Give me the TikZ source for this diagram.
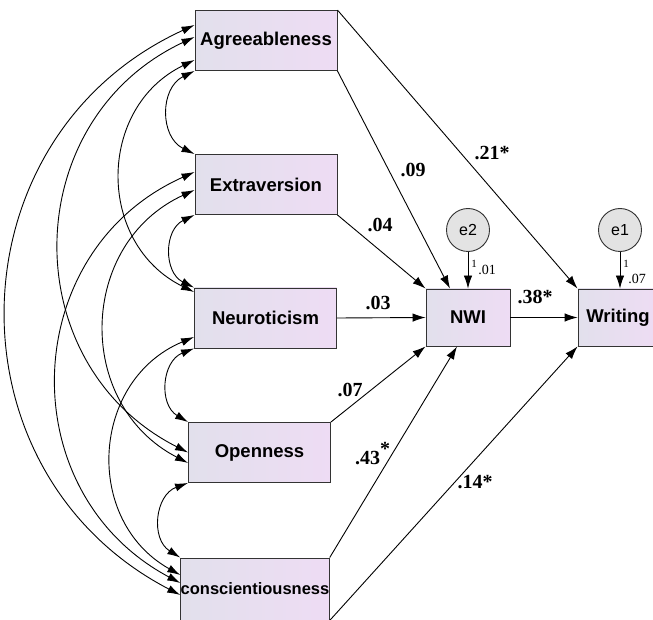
\documentclass[tikz,border=0pt]{standalone}
\usepackage{fontspec}
\setmainfont{Liberation Serif}
\setsansfont{Liberation Sans}
\usetikzlibrary{arrows.meta,calc}
\definecolor{boxl}{RGB}{226,224,236}
\definecolor{boxr}{RGB}{238,220,244}

\begin{document}
\begin{tikzpicture}[x=1pt,y=1pt,
        var/.style={draw=black!80,line width=0.9pt,minimum width=142pt,minimum height=60pt,inner sep=0pt,
            left color=boxl,right color=boxr,font=\sffamily\bfseries\fontsize{18.5}{20}\selectfont},
        err/.style={circle,draw=black!80,line width=0.9pt,fill=black!11,minimum size=43pt,inner sep=0pt,
            font=\sffamily\fontsize{16}{17}\selectfont},
        reg/.style={line width=0.9pt,-{Latex[length=13pt,width=8.5pt]}},
        cov/.style={line width=0.9pt,{Latex[length=13pt,width=8pt]}-{Latex[length=13pt,width=8pt]},
            bend right=64,looseness=1.2},
        coef/.style={font=\bfseries\fontsize{20}{22}\selectfont,inner sep=0pt},
        resid/.style={font=\fontsize{14}{15}\selectfont,inner sep=0pt}]
        \useasboundingbox[fill=white] (0,0) rectangle (653,-620);

        \node (agr) [var] at (266,-40.5) {Agreeableness};
        \node (ext) [var] at (266,-184.5) {Extraversion};
        \node (neu) [var] at (265.5,-318) {Neuroticism};
        \node (ope) [var] at (259.5,-452.5) {Openness};
        \node (con) [var,minimum height=62pt,font=\sffamily\bfseries\fontsize{16.5}{18}\selectfont] at (255,-589) {conscientiousness};
        \node (nwi) [var,minimum width=84pt,minimum height=57pt] at (468,-317.5) {NWI};
        \node (wri) [var,minimum width=80pt,minimum height=57pt] at (618,-317.5) {Writing};
        \node (e2) [err] at (468,-230) {e2};
        \node (e1) [err] at (620,-230) {e1};

        % paths
        \draw[reg] (agr.north east) -- (wri.north west);
        \draw[reg] (agr.south east) -- ([xshift=-18pt]nwi.north);
        \draw[reg] (ext.south east) -- (nwi.north west);
        \draw[reg] (neu.east) -- (nwi.west);
        \draw[reg] (ope.north east) -- (nwi.south west);
        \draw[reg] (con.north east) -- ([xshift=-11pt]nwi.south);
        \draw[reg] (con.south east) -- (wri.south west);
        \draw[reg] (nwi.east) -- (wri.west);
        \draw[reg] (e2.south) -- (nwi.north);
        \draw[reg] (e1.south) -- ([xshift=2pt]wri.north);

        % covariances
        \draw[cov] ([yshift=15.5pt]agr.west) to ([yshift=-6pt]con.west);
        \draw[cov] ([yshift=3.5pt]agr.west) to (ope.west);
        \draw[cov] ([yshift=-19.5pt]agr.west) to ([yshift=26pt]neu.west);
        \draw[cov] (agr.south west) to (ext.north west);
        \draw[cov] ([yshift=12.5pt]ext.west) to ([yshift=6pt]con.west);
        \draw[cov] ([yshift=-5.5pt]ext.west) to ([yshift=-10.5pt]ope.west);
        \draw[cov] (ext.south west) to (neu.north west);
        \draw[cov] ([yshift=-19pt]neu.west) to ([yshift=14pt]con.west);
        \draw[cov] (neu.south west) to (ope.north west);
        \draw[cov] (ope.south west) to (con.north west);

        \node (l21) [coef] at (492,-153) {.21*};
        \node (l09) [coef] at (413,-170) {.09};
        \node (l04) [coef] at (380,-225) {.04};
        \node (l03) [coef] at (378,-303) {.03};
        \node (l07) [coef] at (350,-390) {.07};
        \node (l43) [coef,anchor=base west] at (355,-464) {.43\raisebox{9pt}{*}};
        \node (l14) [coef] at (475,-482) {.14*};
        \node (l38) [coef] at (535,-297) {.38*};

        \node (one2) [resid,font=\fontsize{11}{12}\selectfont] at (474,-264) {1};
        \node (v2) [resid] at (487,-270) {.01};
        \node (one1) [resid,font=\fontsize{11}{12}\selectfont] at (626,-264) {1};
        \node (v1) [resid] at (637,-279) {.07};
    \end{tikzpicture}
\end{document}
